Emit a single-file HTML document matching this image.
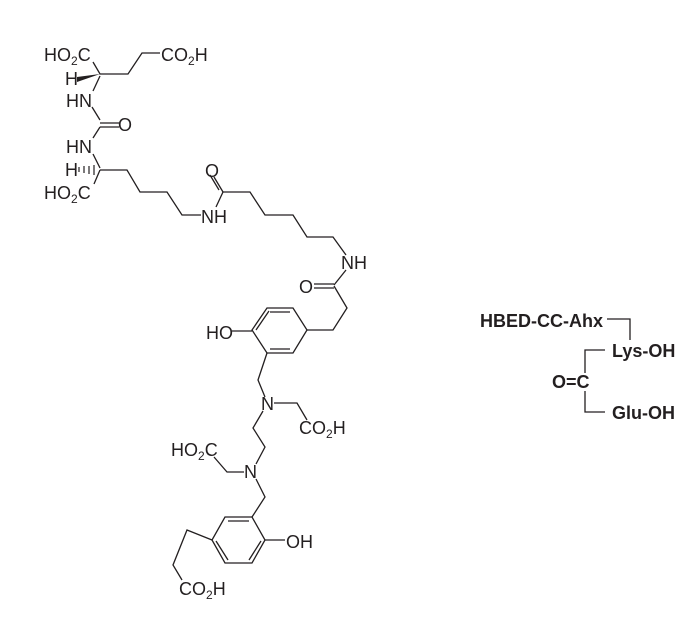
<!DOCTYPE html>
<html><head><style>
html,body{margin:0;padding:0;background:#fff;}
svg{display:block;}
text{font-family:"Liberation Sans",Arial,sans-serif;fill:#231f20;}
.t{font-size:18px;}
.s{font-size:12px;}
.b{font-size:18px;font-weight:bold;}
</style></head><body>
<svg width="699" height="640" viewBox="0 0 699 640" xmlns="http://www.w3.org/2000/svg">
<g stroke="#231f20" stroke-width="1.3" fill="none">
<polyline points="93,62 100,74 128,74 142,53 160,53"/>
<line x1="100" y1="76" x2="93" y2="91"/>
<line x1="92" y1="107" x2="100" y2="120"/>
<line x1="100" y1="123" x2="119" y2="123"/>
<line x1="100" y1="127" x2="119" y2="127"/>
<line x1="100" y1="127" x2="93" y2="138"/>
<line x1="93" y1="154" x2="100" y2="168"/>
<line x1="100" y1="170" x2="94" y2="184"/>
<polyline points="100,170 127,170 140,192 167,192 182,215 201,215"/>
<line x1="216" y1="207" x2="223" y2="192"/>
<line x1="223" y1="192" x2="214" y2="177"/>
<line x1="219" y1="190" x2="210" y2="175"/>
<polyline points="223,192 250,192 265,215 293,215 307,237 333,237 346,255"/>
<line x1="346" y1="270" x2="334" y2="285"/>
<line x1="314" y1="284" x2="334" y2="284"/>
<line x1="314" y1="288" x2="334" y2="288"/>
<polyline points="334,286 347,308 333,330 307,330"/>
<polygon points="267,308 293,308 307,330 293,353 267,353 252,330"/>
<line x1="270" y1="312" x2="290" y2="312"/>
<line x1="270" y1="349" x2="290" y2="349"/>
<line x1="256" y1="330" x2="269" y2="311"/>
<line x1="232" y1="331" x2="252" y2="331"/>
<polyline points="267,353 258,380 265,397"/>
<polyline points="274,403 297,403 307,420"/>
<polyline points="263,411 253,428 265,447 256,464"/>
<polyline points="214,457 227,472 244,472"/>
<polyline points="256,479 265,497 252,517"/>
<polygon points="225,517 252,517 265,540 252,563 225,563 212,540"/>
<line x1="228" y1="521" x2="249" y2="521"/>
<line x1="261" y1="541" x2="249" y2="560"/>
<line x1="216" y1="541" x2="228" y2="560"/>
<line x1="265" y1="540" x2="285" y2="540"/>
<polyline points="212,540 187,530 173,565 182,580"/>
<polyline points="607,319 630,319 630,340"/>
<polyline points="605,350 585,350 585,373"/>
<polyline points="585,391 585,412 605,412"/>
</g>
<polygon points="77,77 100,74 77,82" fill="#231f20"/>
<g stroke="#231f20" stroke-width="1.2">
<line x1="79" y1="167" x2="79" y2="172"/>
<line x1="84" y1="166" x2="84" y2="173"/>
<line x1="89" y1="166" x2="89" y2="174"/>
<line x1="94" y1="165" x2="94" y2="175"/>
</g>
<text class="t" x="44" y="61">HO<tspan class="s" dy="4">2</tspan><tspan dy="-4">C</tspan></text>
<text class="t" x="161" y="61">CO<tspan class="s" dy="4">2</tspan><tspan dy="-4">H</tspan></text>
<text class="t" x="65" y="85">H</text>
<text class="t" x="66" y="107">HN</text>
<text class="t" x="118" y="131">O</text>
<text class="t" x="66" y="153">HN</text>
<text class="t" x="65" y="176">H</text>
<text class="t" x="44" y="199">HO<tspan class="s" dy="4">2</tspan><tspan dy="-4">C</tspan></text>
<text class="t" x="201" y="223">NH</text>
<text class="t" x="205" y="177">O</text>
<text class="t" x="341" y="269">NH</text>
<text class="t" x="299" y="293">O</text>
<text class="t" x="206" y="339">HO</text>
<text class="t" x="261" y="410">N</text>
<text class="t" x="299" y="434">CO<tspan class="s" dy="4">2</tspan><tspan dy="-4">H</tspan></text>
<text class="t" x="171" y="456">HO<tspan class="s" dy="4">2</tspan><tspan dy="-4">C</tspan></text>
<text class="t" x="244" y="478">N</text>
<text class="t" x="286" y="548">OH</text>
<text class="t" x="179" y="595">CO<tspan class="s" dy="4">2</tspan><tspan dy="-4">H</tspan></text>
<text class="b" x="480" y="327">HBED-CC-Ahx</text>
<text class="b" x="612" y="357">Lys-OH</text>
<text class="b" x="552" y="388">O=C</text>
<text class="b" x="612" y="419">Glu-OH</text>
</svg>
</body></html>
